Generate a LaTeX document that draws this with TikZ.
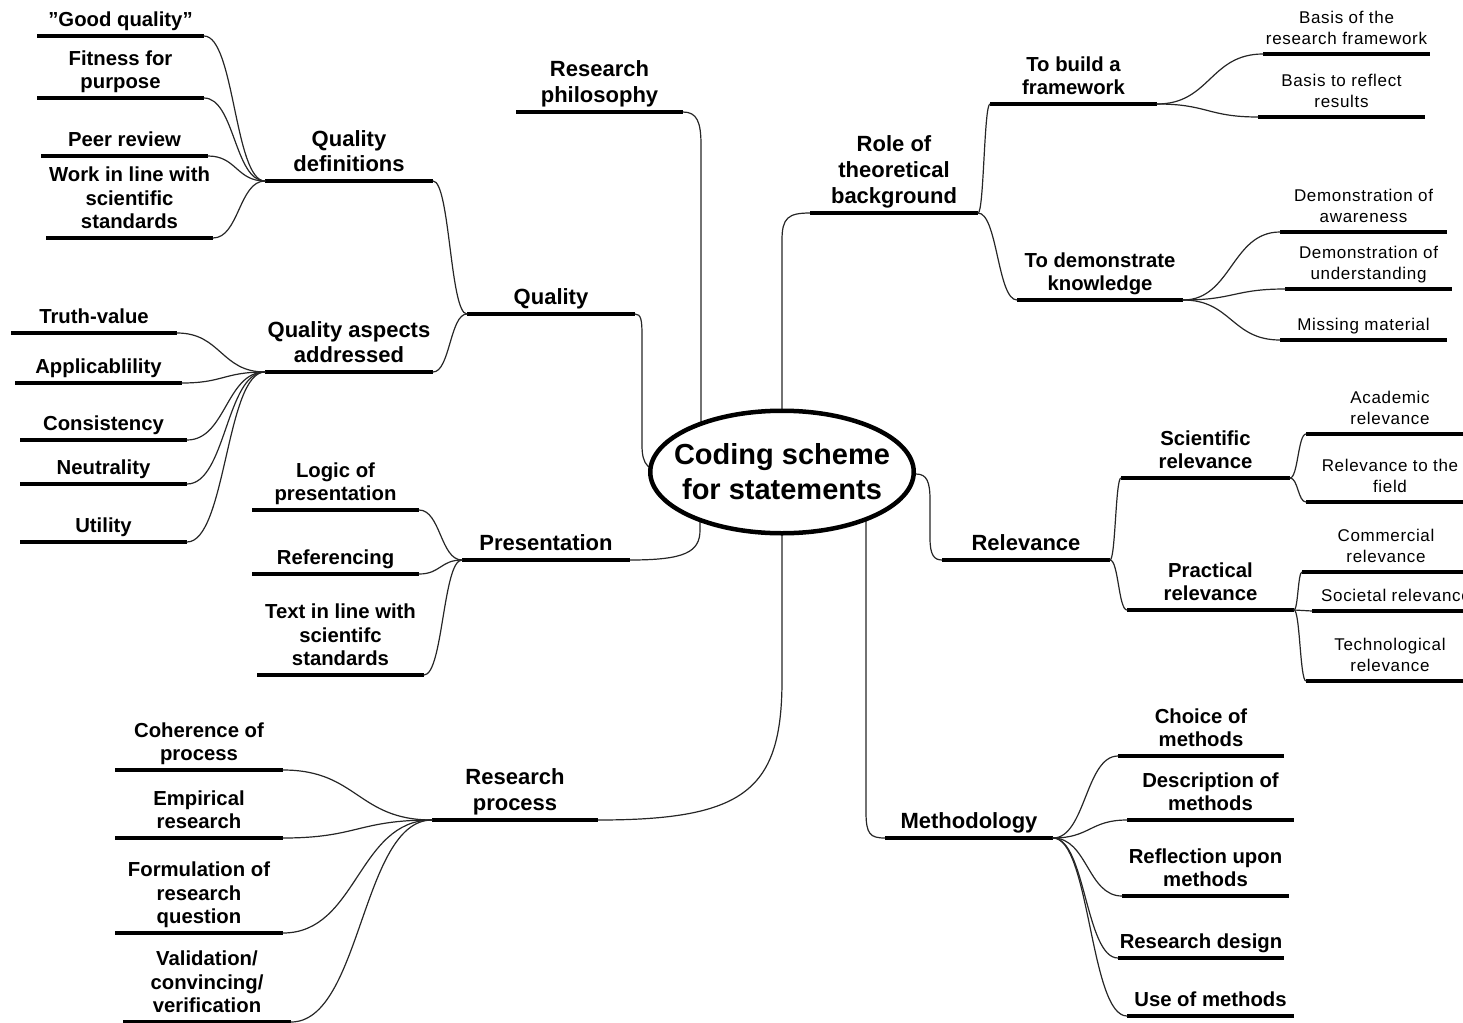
\documentclass[tikz,border=0pt]{standalone}
\usepackage{fontspec}
\setmainfont{Liberation Sans}
\newfontfamily\leaffont[LetterSpace=4]{Liberation Sans}
\usetikzlibrary{calc,shapes.geometric,backgrounds}
\tikzset{
  ul/.style={line width=4.5pt, black},
  conn/.style={line width=1.2pt, black!85, line cap=round},
  lab/.style={anchor=south, inner xsep=0pt, inner ysep=0pt, text depth=0pt, yshift=9pt, align=center, text=black},
  lone/.style={lab, font=\bfseries\fontsize{22}{26}\selectfont},
  lqd/.style={lab, font=\bfseries\fontsize{22}{25}\selectfont},
  ltwo/.style={lab, font=\bfseries\fontsize{20.3}{23.5}\selectfont},
  lsm/.style={lab, font=\leaffont\fontsize{17}{21.5}\selectfont},
  centretext/.style={align=center, inner sep=0pt, font=\bfseries\fontsize{29}{35}\selectfont, text=black},
}
\newcommand\mmtopic[6]{%
  \coordinate (#1-l) at (#2,#4);
  \coordinate (#1-r) at (#3,#4);
  \draw[ul] (#1-l) -- (#1-r);
  \node[#5] (#1) at ({(#2+#3)/2},#4) {#6};
}
\newcommand\linkR[3][0.5]{\draw[conn] let \p1=(#2-r), \p2=(#3-l) in (\p1) .. controls ({\x1+#1*(\x2-\x1)},\y1) and ({\x2-#1*(\x2-\x1)},\y2) .. (\p2);}
\newcommand\linkL[3][0.5]{\draw[conn] let \p1=(#2-l), \p2=(#3-r) in (\p1) .. controls ({\x1+#1*(\x2-\x1)},\y1) and ({\x2-#1*(\x2-\x1)},\y2) .. (\p2);}
\begin{document}
\begin{tikzpicture}[x=1pt,y=-1pt]
\useasboundingbox (0,0) rectangle (1463,1022);
\clip (0,0) rectangle (1463,1022);
% centre
\node[ellipse, draw, line width=4.5pt, fill=white, minimum width=263.5pt, minimum height=122.5pt, inner sep=0pt,
  label={[centretext, name=ctext]center:{Coding scheme\\for statements}}] (c) at (782,472) {};
% level 1
\mmtopic{rp}{516}{683}{112}{lone}{Research\\philosophy}
\mmtopic{q}{467}{635}{314}{lone}{Quality}
\mmtopic{pr}{462}{630}{560}{lone}{Presentation}
\mmtopic{rpr}{432}{598}{820}{lone}{Research\\process}
\mmtopic{rot}{810}{978}{213}{lone}{Role of\\theoretical\\background}
\mmtopic{rel}{942}{1110}{560}{lone}{Relevance}
\mmtopic{me}{885}{1053}{838}{lone}{Methodology}
% quality
\mmtopic{qd}{265}{433}{181}{lqd}{Quality\\definitions}
\mmtopic{qa}{265}{433}{372}{lqd}{Quality aspects\\addressed}
\mmtopic{gq}{37}{204}{36}{ltwo}{”Good quality”}
\mmtopic{fp}{37}{204}{98}{ltwo}{Fitness for\\purpose}
\mmtopic{peer}{41}{208}{156}{ltwo}{Peer review}
\mmtopic{work}{46}{213}{238}{ltwo}{Work in line with\\scientific\\standards}
\mmtopic{tv}{11}{177}{333}{ltwo}{Truth-value}
\mmtopic{app}{15}{182}{383}{ltwo}{Applicablility}
\mmtopic{cons}{20}{187}{440}{ltwo}{Consistency}
\mmtopic{neu}{20}{187}{484}{ltwo}{Neutrality}
\mmtopic{uti}{20}{187}{542}{ltwo}{Utility}
% presentation
\mmtopic{log}{252}{419}{510}{ltwo}{Logic of\\presentation}
\mmtopic{ref}{252}{419}{574}{ltwo}{Referencing}
\mmtopic{txt}{257}{424}{675}{ltwo}{Text in line with\\scientifc\\standards}
% research process
\mmtopic{coh}{115}{283}{770}{ltwo}{Coherence of\\process}
\mmtopic{emp}{115}{283}{838}{ltwo}{Empirical\\research}
\mmtopic{form}{115}{283}{933}{ltwo}{Formulation of\\research\\question}
\mmtopic{val}{123}{291}{1022}{ltwo}{Validation/\\convincing/\\verification}
% role of theoretical background
\mmtopic{build}{990}{1157}{104}{ltwo}{To build a\\framework}
\mmtopic{demo}{1017}{1183}{300}{ltwo}{To demonstrate\\knowledge}
\mmtopic{brf}{1263}{1430}{54}{lsm}{Basis of the\\research framework}
\mmtopic{btr}{1258}{1425}{117}{lsm}{Basis to reflect\\results}
\mmtopic{daw}{1280}{1447}{232}{lsm}{Demonstration of\\awareness}
\mmtopic{dun}{1285}{1452}{289}{lsm}{Demonstration of\\understanding}
\mmtopic{miss}{1280}{1447}{340}{lsm}{Missing material}
% relevance
\mmtopic{sci}{1121}{1290}{478}{ltwo}{Scientific\\relevance}
\mmtopic{prac}{1127}{1294}{610}{ltwo}{Practical\\relevance}
\mmtopic{acad}{1306}{1474}{434}{lsm}{Academic\\relevance}
\mmtopic{field}{1306}{1474}{502}{lsm}{Relevance to the\\field}
\mmtopic{comm}{1302}{1470}{572}{lsm}{Commercial\\relevance}
\mmtopic{soc}{1312}{1480}{611}{lsm}{Societal relevance}
\mmtopic{tech}{1306}{1474}{681}{lsm}{Technological\\relevance}
% methodology
\mmtopic{cho}{1118}{1284}{756}{ltwo}{Choice of\\methods}
\mmtopic{desc}{1127}{1294}{820}{ltwo}{Description of\\methods}
\mmtopic{refl}{1122}{1289}{896}{ltwo}{Reflection upon\\methods}
\mmtopic{rd}{1118}{1284}{958}{ltwo}{Research design}
\mmtopic{use}{1127}{1294}{1016}{ltwo}{Use of methods}
% links
\linkL{q}{qd}\linkL{q}{qa}
\linkL{qd}{gq}\linkL{qd}{fp}\linkL{qd}{peer}\linkL{qd}{work}
\linkL{qa}{tv}\linkL{qa}{app}\linkL{qa}{cons}\linkL{qa}{neu}\linkL{qa}{uti}
\linkL{pr}{log}\linkL{pr}{ref}\linkL{pr}{txt}
\linkL{rpr}{coh}\linkL{rpr}{emp}\linkL{rpr}{form}\linkL{rpr}{val}
\linkR{rot}{build}\linkR{rot}{demo}
\linkR{build}{brf}\linkR{build}{btr}
\linkR{demo}{daw}\linkR{demo}{dun}\linkR{demo}{miss}
\linkR{rel}{sci}\linkR{rel}{prac}
\linkR{sci}{acad}\linkR{sci}{field}
\linkR{prac}{comm}\linkR{prac}{soc}\linkR{prac}{tech}
\linkR{me}{cho}\linkR{me}{desc}\linkR{me}{refl}\linkR{me}{rd}\linkR{me}{use}
% connectors to the centre (hidden inside the white ellipse)
\coordinate (c-rp) at (701,472);
\coordinate (c-q) at (670,472);
\coordinate (c-pr) at (700,472);
\coordinate (c-rpr) at (782,472);
\coordinate (c-me) at (866,472);
\coordinate (c-rot) at (782,472);
\coordinate (c-rel) at (895,474);
\begin{scope}[on background layer]
\draw[conn] (rp-r) .. controls (697,112) and (701,122) .. (701,145) -- (c-rp);
\draw[conn] (q-r) .. controls (641,314) and (642,320) .. (642,335) -- (642,445) .. controls (642,465) and (648,472) .. (c-q);
\draw[conn] (pr-r) .. controls (685,560) and (700,552) .. (700,530) -- (c-pr);
\draw[conn] (rpr-r) .. controls (745,820) and (782,790) .. (782,680) -- (c-rpr);
\draw[conn] (c-me) -- (866,812) .. controls (866,834) and (870,838) .. (me-l);
\draw[conn] (c-rot) -- (782,240) .. controls (782,218) and (788,213) .. (rot-l);
\draw[conn] (c-rel) -- (916,474) .. controls (927,474) and (930,482) .. (930,500) -- (930,538) .. controls (930,555) and (934,560) .. (rel-l);
\end{scope}
\end{tikzpicture}
\end{document}
